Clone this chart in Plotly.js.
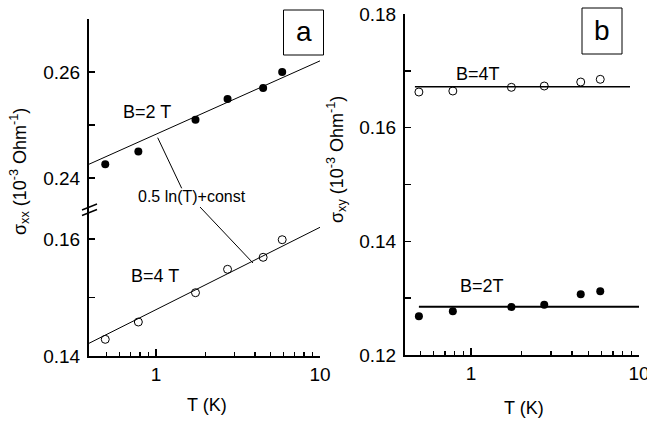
<!DOCTYPE html>
<html>
<head>
<meta charset="utf-8">
<script src="https://cdn.plot.ly/plotly-3.0.1.min.js"></script>
<style>html,body{margin:0;padding:0;background:#fff;}#chart{width:647px;height:424px;}</style>
</head>
<body>
<div id="chart"></div>
<script>
// ---- data ----
var temperatureK = [0.49, 0.78, 1.74, 2.73, 4.5, 5.88];
var sigmaXX_B2T = [0.2426, 0.2450, 0.2510, 0.2549, 0.2570, 0.2600];
var sigmaXX_B4T = [0.14285, 0.14581, 0.15082, 0.15482, 0.15687, 0.15988];
var sigmaXY_B4T = [0.16627, 0.16645, 0.16710, 0.16733, 0.16803, 0.16851];
var sigmaXY_B2T = [0.12681, 0.12769, 0.12845, 0.12885, 0.13068, 0.13121];
// fit lines (0.5 ln(T) + const) and constant lines
var fitT_a = [0.39, 10];
var fitXX_B2T = [0.2426, 0.2621];
var fitXX_B4T = [0.14217, 0.16200];
var fitT_b4 = [0.464, 8.84];
var fitXY_B4T = [0.16721, 0.16721];
var fitT_b2 = [0.49, 10];
var fitXY_B2T = [0.1285, 0.1285];
var xTickVals = [1, 10];
var xTickText = ['1', '10'];
var xMinorVals = [0.5, 0.6, 0.7, 0.8, 0.9, 2, 3, 4, 5, 6, 7, 8, 9];

var W = 647, H = 424;
function px(x){ return x / W; }
function py(y){ return 1 - y / H; }
var FONT = 'Liberation Sans, Arial, Helvetica, sans-serif';

var filled = {symbol: 'circle', size: 8, color: '#000'};
var open = {symbol: 'circle-open', size: 8, color: '#000', line: {width: 1, color: '#000'}};

var traces = [
  {x: fitT_a, y: fitXX_B2T, xaxis: 'x', yaxis: 'y2', mode: 'lines', line: {color: '#000', width: 1}},
  {x: temperatureK, y: sigmaXX_B2T, xaxis: 'x', yaxis: 'y2', mode: 'markers', marker: filled},
  {x: fitT_a, y: fitXX_B4T, xaxis: 'x', yaxis: 'y', mode: 'lines', line: {color: '#000', width: 1}},
  {x: temperatureK, y: sigmaXX_B4T, xaxis: 'x', yaxis: 'y', mode: 'markers', marker: open},
  {x: fitT_b4, y: fitXY_B4T, xaxis: 'x2', yaxis: 'y3', mode: 'lines', line: {color: '#000', width: 1.5}},
  {x: temperatureK, y: sigmaXY_B4T, xaxis: 'x2', yaxis: 'y3', mode: 'markers', marker: open},
  {x: fitT_b2, y: fitXY_B2T, xaxis: 'x2', yaxis: 'y3', mode: 'lines', line: {color: '#000', width: 2}},
  {x: temperatureK, y: sigmaXY_B2T, xaxis: 'x2', yaxis: 'y3', mode: 'markers', marker: filled}
];

var tickFont = {family: FONT, size: 19, color: '#000'};
function xAxis(domain, range, anchor){
  return {
    type: 'log', domain: domain, range: range, anchor: anchor,
    showline: true, linewidth: 2, linecolor: '#000', showgrid: false, zeroline: false,
    ticks: 'inside', ticklen: 7, tickwidth: 1.5, tickcolor: '#000',
    tickmode: 'array', tickvals: xTickVals, ticktext: xTickText,
    tickfont: tickFont, ticklabeloverflow: 'allow',
    minor: {tickmode: 'array', tickvals: xMinorVals, ticks: 'inside', ticklen: 4, tickwidth: 1.5, tickcolor: '#000', showgrid: false}
  };
}
function yAxis(domain, range, anchor, major, minor){
  return {
    domain: domain, range: range, anchor: anchor,
    showline: true, linewidth: 2, linecolor: '#000', showgrid: false, zeroline: false,
    ticks: 'inside', ticklen: 6, tickwidth: 1.5, tickcolor: '#000',
    tickmode: 'array', tickvals: major, ticktext: major.map(function(v){return v.toFixed(2);}),
    tickfont: tickFont, ticklabelstandoff: 3,
    minor: {tickmode: 'array', tickvals: minor, ticks: 'inside', ticklen: 6, tickwidth: 1.5, tickcolor: '#000', showgrid: false}
  };
}

var ann = [
  {text: 'B=2 T', x: px(147), y: py(112)},
  {text: 'B=4 T', x: px(155), y: py(276)},
  {text: '0.5 ln(T)+const', x: px(192), y: py(197), size: 16},
  {text: 'B=4T', x: px(478), y: py(74)},
  {text: 'B=2T', x: px(482), y: py(286)},
  {text: 'a', x: px(303.5), y: py(32), size: 28},
  {text: 'b', x: px(602), y: py(31), size: 28},
  {text: 'T (K)', x: px(207), y: py(405)},
  {text: 'T (K)', x: px(524), y: py(408)},
  {text: 'σ<sub>xx</sub> (10<sup>-3</sup> Ohm<sup>-1</sup>)', x: px(19), y: py(172), angle: -90},
  {text: 'σ<sub>xy</sub> (10<sup>-3</sup> Ohm<sup>-1</sup>)', x: px(336), y: py(160), angle: -90}
].map(function(a){
  return {text: a.text, x: a.x, y: a.y, xref: 'paper', yref: 'paper', showarrow: false,
    xanchor: 'center', yanchor: 'middle', textangle: a.angle || 0,
    font: {family: FONT, size: a.size || 18, color: '#000'}};
});

function seg(x0, y0, x1, y1, w){
  return {type: 'line', xref: 'paper', yref: 'paper', x0: px(x0), y0: py(y0), x1: px(x1), y1: py(y1), line: {color: '#000', width: w || 1}};
}
var shapes = [
  seg(157.7, 137.7, 181.7, 188.3),
  seg(200, 207, 253, 263),
  seg(82, 210, 97, 204, 1.5),
  seg(82, 215.5, 97, 209.5, 1.5),
  {type: 'rect', xref: 'paper', yref: 'paper', x0: px(283.5), x1: px(323.5), y0: py(55), y1: py(10), line: {color: '#000', width: 1}},
  {type: 'rect', xref: 'paper', yref: 'paper', x0: px(582), x1: px(622), y0: py(54), y1: py(8), line: {color: '#000', width: 1}}
];

var layout = {
  width: W, height: H,
  margin: {l: 0, r: 0, t: 0, b: 0},
  paper_bgcolor: '#fff', plot_bgcolor: 'rgba(0,0,0,0)',
  showlegend: false,
  font: {family: FONT, color: '#000'},
  xaxis: xAxis([px(89), px(320)], [Math.log10(0.39), 1], 'y'),
  yaxis: yAxis([py(356), py(208)], [0.14, 0.1653], 'x', [0.14, 0.16], [0.15]),
  yaxis2: yAxis([py(208), py(19)], [0.23434, 0.27], 'x', [0.24, 0.26], [0.25, 0.27]),
  xaxis2: xAxis([px(405), px(639)], [Math.log10(0.405), 1], 'y3'),
  yaxis3: yAxis([py(355), py(14)], [0.12, 0.18], 'x2', [0.12, 0.14, 0.16, 0.18], [0.13, 0.15, 0.17]),
  annotations: ann,
  shapes: shapes
};

Plotly.newPlot('chart', traces, layout, {staticPlot: true, displayModeBar: false});
</script>
</body>
</html>
